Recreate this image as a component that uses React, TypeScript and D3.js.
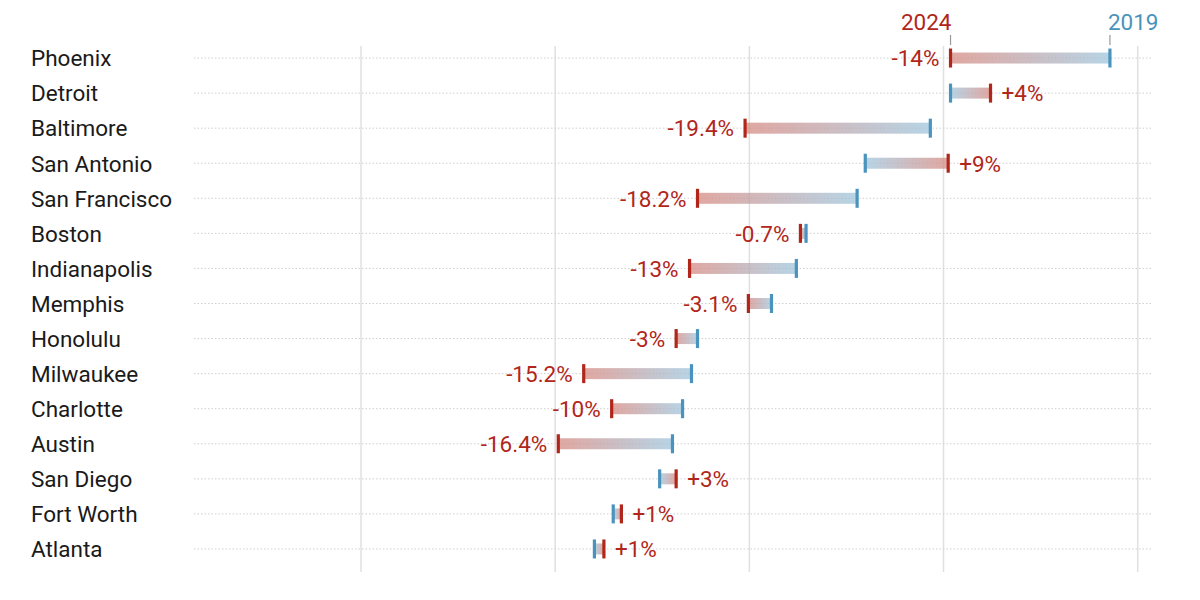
import React from "react";
import * as d3 from "d3";

const cities = ["Phoenix","Detroit","Baltimore","San Antonio","San Francisco","Boston","Indianapolis","Memphis","Honolulu","Milwaukee","Charlotte","Austin","San Diego","Fort Worth","Atlanta"];
const values2019 = [5.857,5.036,4.932,4.597,4.555,4.292,4.242,4.114,3.733,3.702,3.656,3.604,3.538,3.299,3.202];
const values2024 = [5.036,5.242,3.978,5.024,3.733,4.263,3.692,3.995,3.623,3.147,3.291,3.016,3.623,3.341,3.251];
const changeLabels = ["-14%","+4%","-19.4%","+9%","-18.2%","-0.7%","-13%","-3.1%","-3%","-15.2%","-10%","-16.4%","+3%","+1%","+1%"];
const gridTicks = [2,3,4,5,6];
const yearLabels = ["2024","2019"];

const RED = "#b0261a";
const BLUE = "#4a93bd";
const FONT = "Roboto, 'Noto Sans', sans-serif";

export default function App() {
  const W = 1200, H = 600;
  const x = d3.scaleLinear().domain([2, 6]).range([361, 1137.7]);
  const y = d3.scaleBand<string>().domain(cities).range([40.5, 566.5]).paddingInner(0).paddingOuter(0);
  const yc = (c: string) => (y(c) as number) + y.bandwidth() / 2;
  const barH = 11, capH = 19, capW = 3.2;
  const fs = 22.5;
  return (
    <svg width={W} height={H} style={{ position: "absolute", left: 0, top: 0, background: "#fff" }}>
      <defs>
        <linearGradient id="gDown" x1="0" x2="1" y1="0" y2="0">
          <stop offset="0%" stopColor="#d68a82" />
          <stop offset="100%" stopColor="#9fc6dd" />
        </linearGradient>
        <linearGradient id="gUp" x1="0" x2="1" y1="0" y2="0">
          <stop offset="0%" stopColor="#9fc6dd" />
          <stop offset="100%" stopColor="#d68a82" />
        </linearGradient>
      </defs>
      {gridTicks.map((t) => (
        <line key={t} x1={x(t)} x2={x(t)} y1={46} y2={572} stroke="#e0e0e0" strokeWidth={1.5} />
      ))}
      {cities.map((c) => (
        <line key={"d" + c} x1={194} x2={1153} y1={yc(c)} y2={yc(c)} stroke="#cfcfcf" strokeWidth={1} strokeDasharray="1.5,2" />
      ))}
      {cities.map((c) => (
        <text key={"n" + c} x={31} y={yc(c) + 8.3} fontFamily={FONT} fontSize={fs} fill="#1a1a1a">{c}</text>
      ))}
      {cities.map((c, i) => {
        const a = x(values2019[i]), b = x(values2024[i]);
        const down = values2024[i] < values2019[i];
        const lo = Math.min(a, b), hi = Math.max(a, b);
        const cy = yc(c);
        return (
          <g key={"b" + c}>
            <rect x={lo} y={cy - barH / 2} width={Math.max(hi - lo, 0.5)} height={barH} fill={down ? "url(#gDown)" : "url(#gUp)"} opacity={0.75} />
            <rect x={a - capW / 2} y={cy - capH / 2} width={capW} height={capH} fill={BLUE} />
            <rect x={b - capW / 2} y={cy - capH / 2} width={capW} height={capH} fill={RED} />
            <text x={down ? b - 11 : b + 11} y={cy + 8.3} textAnchor={down ? "end" : "start"} fontFamily={FONT} fontSize={fs} fill={RED}>{changeLabels[i]}</text>
          </g>
        );
      })}
      {(() => {
        const xr = x(values2024[0]), xb = x(values2019[0]);
        return (
          <g>
            <text x={xr + 1} y={29.5} textAnchor="end" fontFamily={FONT} fontSize={fs} fill={RED}>{yearLabels[0]}</text>
            <text x={xb - 2} y={29.5} textAnchor="start" fontFamily={FONT} fontSize={fs} fill={BLUE}>{yearLabels[1]}</text>
            <line x1={xr} x2={xr} y1={35} y2={45} stroke="#999" strokeWidth={1.2} />
            <line x1={xb} x2={xb} y1={35} y2={45} stroke="#999" strokeWidth={1.2} />
          </g>
        );
      })()}
    </svg>
  );
}
